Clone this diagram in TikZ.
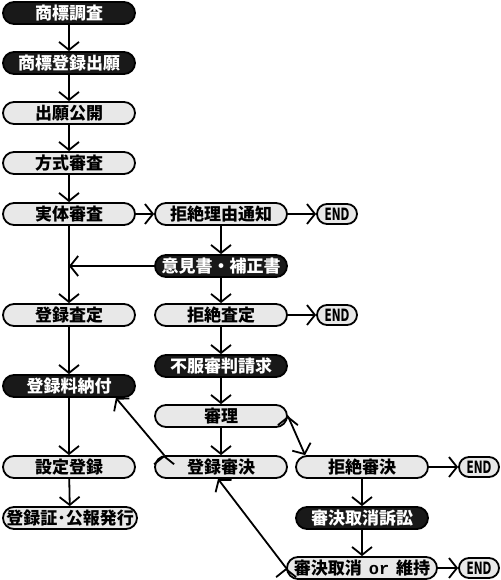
\documentclass[tikz,border=0pt]{standalone}
\usepackage{fontspec}
\setmainfont{Noto Sans CJK JP}[BoldFont={Noto Sans CJK JP Black}]
\newfontfamily\endfont{DejaVu Sans}[FakeStretch=0.62]
\newfontfamily\ormono{Liberation Mono}
\usetikzlibrary{arrows.meta}

\begin{document}
\begin{tikzpicture}[
  x=1pt, y=-1pt,
  line width=1.8pt,
  >={Straight Barb[length=8pt,width=20pt]},
  bnode/.style={draw,rounded corners=11pt,minimum width=132pt,minimum height=22pt,inner sep=0pt,fill=black!90,text=white,font=\bfseries\fontsize{17}{17}\selectfont},
  gnode/.style={bnode,fill=black!9,text=black},
  enode/.style={gnode,minimum width=40pt,minimum height=20pt,rounded corners=10pt,font=\endfont\bfseries\fontsize{17}{17}\selectfont}
]
  \useasboundingbox (0,0) rectangle (500,580);

  % main column
  \node[bnode] (chosa) at (69,13) {商標調査};
  \node[bnode] (shutsugan) at (69,63) {商標登録出願};
  \node[gnode] (kokai) at (69,113) {出願公開};
  \node[gnode] (hoshiki) at (69,163) {方式審査};
  \node[gnode] (jittai) at (69,214) {実体審査};
  \node[gnode] (satei) at (69,315) {登録査定};
  \node[bnode] (nofu) at (69,386) {登録料納付};
  \node[gnode] (settei) at (69,467) {設定登録};
  \node[gnode,minimum width=134pt] (hakko) at (70,518) {登録証･公報発行};

  % rejection column
  \node[gnode] (tsuchi) at (221,214) {拒絶理由通知};
  \node[bnode] (ikensho) at (221,266) {意見書・補正書};
  \node[gnode] (kyozetsu) at (221,315) {拒絶査定};
  \node[bnode] (fufuku) at (221,366) {不服審判請求};
  \node[gnode] (shinri) at (221,416) {審理};
  \node[gnode] (tshinketsu) at (221,467) {登録審決};

  % court column
  \node[gnode] (kshinketsu) at (362,467) {拒絶審決};
  \node[bnode] (sosho) at (362,518) {審決取消訴訟};
  \node[gnode,minimum width=150pt] (iji) at (362,568) {審決取消{\ormono\bfseries\hspace{7pt}or\hspace{7pt}}維持};

  % end marks
  \node[enode] (end1) at (337,214) {END};
  \node[enode] (end2) at (337,315) {END};
  \node[enode] (end3) at (479,467) {END};
  \node[enode] (end4) at (479,568) {END};

  \coordinate (merge) at (jittai |- ikensho);

  % main edges
  \draw[->] (chosa) edge (shutsugan);
  \draw[->] (shutsugan) edge (kokai);
  \draw[->] (kokai) edge (hoshiki);
  \draw[->] (hoshiki) edge (jittai);
  \draw[->] (jittai) edge (satei);
  \draw[->] (satei) edge (nofu);
  \draw[->] (nofu) edge (settei);
  \draw[->] (settei) edge (hakko);

  % rejection edges
  \draw[->] (jittai) edge (tsuchi);
  \draw[->] (tsuchi) edge (end1);
  \draw[->] (tsuchi) edge (ikensho);
  \draw[->] (ikensho) edge (merge);
  \draw[->] (ikensho) edge (kyozetsu);
  \draw[->] (kyozetsu) edge (end2);
  \draw[->] (kyozetsu) edge (fufuku);
  \draw[->] (fufuku) edge (shinri);
  \draw[->] (shinri) edge (tshinketsu);
  \draw[->] (shinri.east) edge ([xshift=10pt]kshinketsu.north west);
  \draw[->] ([xshift=10pt]tshinketsu.north west) edge ([xshift=-20pt]nofu.south east);

  % court edges
  \draw[->] (kshinketsu) edge (end3);
  \draw[->] (kshinketsu) edge (sosho);
  \draw[->] (sosho) edge (iji);
  \draw[->] (iji) edge (end4);
  \draw[->] (iji.west) edge ([xshift=-3pt]tshinketsu.south);

\end{tikzpicture}
\end{document}
